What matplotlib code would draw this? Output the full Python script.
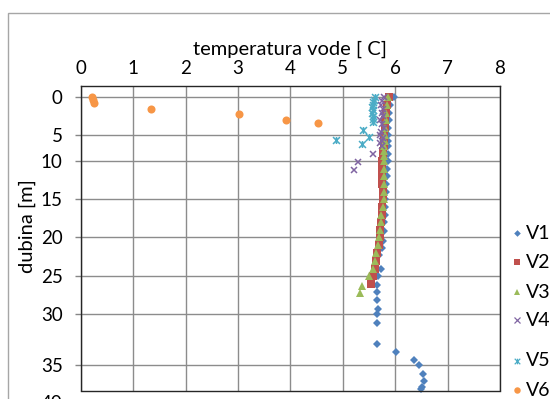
import numpy as np
import matplotlib
matplotlib.use("Agg")
from matplotlib import pyplot as plt
from matplotlib.lines import Line2D
from matplotlib.patches import Rectangle
from matplotlib.path import Path

plt.rcParams['font.family'] = ['Lato', 'DejaVu Sans']

# temperatura [C] / dubina [m] po vertikalama
v1_t = [5.97, 5.90, 5.88, 5.88, 5.87, 5.87, 5.86, 5.86, 5.86, 5.86, 5.85, 5.84, 5.83,
        5.82, 5.81, 5.80, 5.80, 5.79, 5.78, 5.76, 5.74, 5.70, 5.73, 5.68, 5.66, 5.66,
        5.65, 5.67, 5.66, 5.65, 5.65, 6.01, 6.36, 6.46, 6.53, 6.55, 6.51, 6.50]
v1_d = [0, 1, 2, 3, 4, 5, 6, 7, 8.5, 10, 11, 12, 13,
        14, 15, 16, 17, 18, 19.2, 20.5, 21.3, 22.3, 24, 25, 26.1, 27.1,
        28.2, 29.3, 30, 30.85, 32.9, 33.7, 34.45, 35, 36.2, 37.05, 37.9, 38.1]

v2_t = [5.88, 5.84, 5.82, 5.81, 5.80, 5.79, 5.79, 5.78, 5.77, 5.76, 5.75, 5.75, 5.75,
        5.75, 5.76, 5.76, 5.75, 5.74, 5.73, 5.72, 5.71, 5.69, 5.66, 5.63, 5.61, 5.58, 5.53]
v2_d = list(range(0, 27))

v3_t = [5.87, 5.85, 5.83, 5.82, 5.81, 5.80, 5.80, 5.79, 5.79, 5.78, 5.78, 5.78, 5.78,
        5.78, 5.78, 5.78, 5.77, 5.73, 5.73, 5.71, 5.70, 5.67, 5.64, 5.62, 5.57, 5.51,
        5.36, 5.32]
v3_d = list(range(0, 26)) + [26.3, 27.2]

v4_t = [5.78, 5.75, 5.73, 5.76, 5.74, 5.77, 5.72, 5.75, 5.78, 5.73, 5.71, 5.76, 5.74,
        5.72, 5.75, 5.58, 5.30, 5.22]
v4_d = [0, 0.5, 1, 1.5, 2, 2.5, 3, 3.5, 4, 4.5, 5, 5.5, 6, 6.5, 7, 8.6, 10.1, 11.1]

v5_t = [5.62, 5.60, 5.58, 5.58, 5.56, 5.57, 5.56, 5.58, 5.57, 5.57, 5.38, 5.51, 4.87, 5.36]
v5_d = [0, 0.3, 0.6, 1, 1.3, 1.6, 2, 2.4, 2.8, 3.2, 4.3, 5.35, 5.9, 6.6]

v6_t = [0.22, 0.23, 0.25, 1.35, 3.02, 3.91, 4.53]
v6_d = [0.0, 0.3, 0.7, 1.5, 2.2, 3.0, 3.4]

labels = ["V1", "V2", "V3", "V4", "V5", "V6"]
y_ticks = [0, 5, 10, 15, 20, 25, 30, 35]

# zvjezdica kao u Excelu: x + okomita crta
star = Path([(-1, -1), (1, 1), (-1, 1), (1, -1), (0, -1), (0, 1)],
            [Path.MOVETO, Path.LINETO, Path.MOVETO, Path.LINETO, Path.MOVETO, Path.LINETO])

styles = [
    dict(marker="D", color="#4F81BD", ms=4.2),
    dict(marker="s", color="#C0504D", ms=5.6),
    dict(marker="^", color="#9BBB59", ms=6.0),
    dict(marker="x", color="#8064A2", ms=5.0, mew=1.1),
    dict(marker=star, color="#4BACC6", ms=5.0, mew=1.1),
    dict(marker="o", color="#F79646", ms=5.8),
]
series = [(v1_t, v1_d), (v2_t, v2_d), (v3_t, v3_d), (v4_t, v4_d), (v5_t, v5_d), (v6_t, v6_d)]

# skala dubine (razmaci mreze nisu jednaki)
knot_d = [-5, 0, 5, 10, 15, 20, 25, 30, 35, 40, 45]
knot_p = [59.5, 97.5, 135.5, 161.3, 199.3, 237.5, 276.3, 314.0, 365.3, 403.0, 440.7]

def fwd(d):
    return np.interp(d, knot_d, knot_p)

def inv(p):
    return np.interp(p, knot_p, knot_d)

W, H = 550, 399
fig = plt.figure(figsize=(W / 100, H / 100), dpi=100)
fig.add_artist(Rectangle((8.3 / W, -0.1), 1.2, 1 - 13 / H + 0.1, transform=fig.transFigure,
                         fill=False, edgecolor="#a6a6a6", lw=1.0))

ax = fig.add_axes([80.7 / W, 1 - 390.5 / H, (500 - 80.7) / W, (390.5 - 85.7) / H])
ax.set_yscale("function", functions=(fwd, inv))

for (t, d), st in zip(series, styles):
    ax.plot(t, d, ls="none", marker=st["marker"], color=st["color"], ms=st["ms"],
            mew=st.get("mew", 0), clip_on=False)

ax.set_xlim(0, 8)
ax.set_ylim(38.34, -1.55)
ax.set_xticks(range(0, 9))
ax.set_yticks(y_ticks)
ax.xaxis.tick_top()
ax.xaxis.set_label_position("top")
ax.tick_params(axis="x", length=0, pad=6, labelsize=13.5, colors="#000000")
ax.tick_params(axis="y", length=4, width=1, color="#868686", pad=9, labelsize=13.5)
ax.grid(True, color="#8c8c8c", lw=1.0)
ax.set_axisbelow(True)
for s in ax.spines.values():
    s.set_color("#262626")
    s.set_linewidth(1.0)

ax.set_xlabel("temperatura vode [ C]", fontsize=14.5, labelpad=4)
ax.set_ylabel("dubina [m]", fontsize=14.5)
ax.yaxis.set_label_coords(-0.107, 0.54)

# oznaka 40 koja ispada iz slike
ax.text(-0.044, 40, "40", transform=ax.get_yaxis_transform(), ha="right", va="center",
        fontsize=13.5, clip_on=False)

# legenda
leg_y = [233.3, 262.3, 292.0, 320.0, 361.0, 390.0]
for lab, st, yy in zip(labels, styles, leg_y):
    fig.add_artist(Line2D([516.7 / W], [1 - yy / H], ls="none", marker=st["marker"],
                          color=st["color"], ms=st["ms"] * 0.8, mew=st.get("mew", 0) * 0.8,
                          transform=fig.transFigure))
    fig.text(526 / W, 1 - yy / H, lab, ha="left", va="center", fontsize=14)

fig.savefig("out.png", dpi=100)
